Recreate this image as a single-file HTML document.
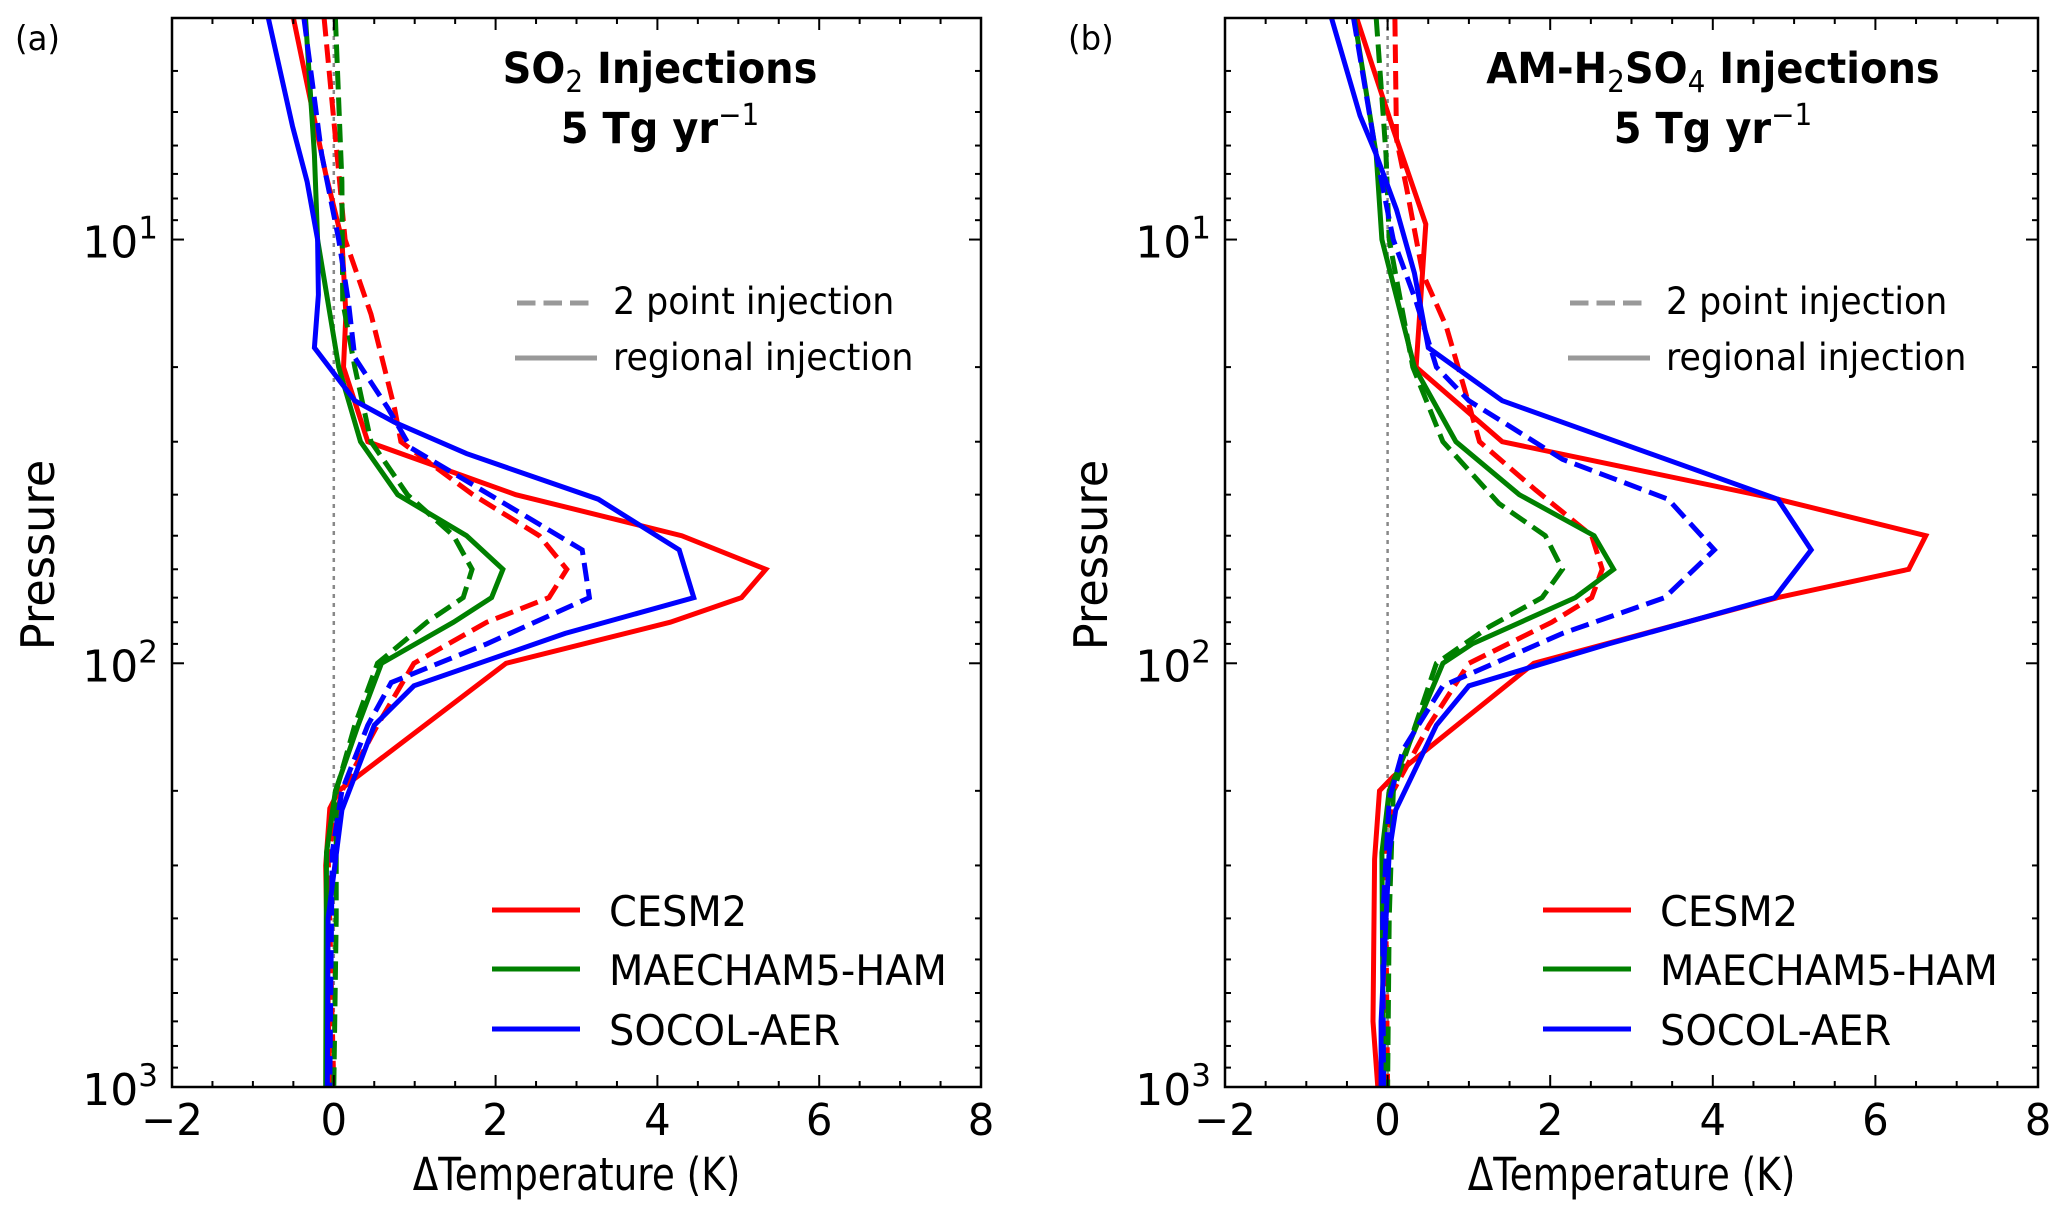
<!DOCTYPE html>
<html><head><meta charset="utf-8">
<style>
html,body{margin:0;padding:0;background:#fff;}
svg{display:block;font-family:"DejaVu Sans","Liberation Sans",sans-serif;}
</style></head>
<body>
<svg id="fig" width="2067" height="1217" viewBox="0 0 2067 1217" xmlns="http://www.w3.org/2000/svg"></svg>
<script>
// ---- data (pressure hPa, ΔT K) ----
const xTicks = [-2, 0, 2, 4, 6, 8];
const xTickLabels = ["\u22122", "0", "2", "4", "6", "8"];
const yDecades = [1, 2, 3];
const models = ["CESM2", "MAECHAM5-HAM", "SOCOL-AER"];
const colors = ["#ff0000", "#008000", "#0000ff"];

// Panel a — SO2
const a_cesm_solid_p = [3, 7, 10, 15, 20, 30, 40, 50, 60, 70, 80, 100, 200, 220, 300, 500, 1000];
const a_cesm_solid_t = [-0.5, -0.1, 0.1, 0.15, 0.12, 0.42, 2.25, 4.3, 5.34, 5.04, 4.16, 2.13, 0.06, -0.05, -0.1, -0.08, -0.05];
const a_cesm_dash_p = [3, 10, 15, 25, 30, 40, 50, 60, 70, 80, 100, 140, 200, 280, 1000];
const a_cesm_dash_t = [-0.12, 0.14, 0.46, 0.75, 0.83, 1.72, 2.54, 2.88, 2.66, 1.89, 0.99, 0.54, 0.1, -0.07, 0.0];
const a_maec_solid_p = [3, 6.3, 10, 20, 30, 40, 50, 60, 70, 80, 100, 140, 200, 280, 1000];
const a_maec_solid_t = [-0.35, -0.24, -0.2, 0.06, 0.33, 0.79, 1.64, 2.09, 1.95, 1.48, 0.59, 0.3, 0.02, -0.09, -0.1];
const a_maec_dash_p = [3, 7.3, 14, 20, 30, 40, 50, 60, 70, 80, 100, 140, 200, 400, 1000];
const a_maec_dash_t = [0.02, 0.1, 0.11, 0.26, 0.46, 0.91, 1.48, 1.71, 1.6, 1.15, 0.54, 0.26, 0.03, 0.03, 0.0];
const a_socol_solid_p = [3, 5.4, 7.3, 10, 13.5, 18, 24, 27, 32, 41, 54, 70, 85, 113, 140, 222, 400, 1000];
const a_socol_solid_t = [-0.81, -0.51, -0.33, -0.2, -0.19, -0.24, 0.26, 0.75, 1.64, 3.27, 4.27, 4.45, 2.86, 0.99, 0.5, 0.1, -0.07, -0.08];
const a_socol_dash_p = [3, 6.3, 10, 14, 19, 25, 31, 46, 54, 70, 90, 111, 140, 200, 280, 1000];
const a_socol_dash_t = [-0.37, -0.15, 0.06, 0.18, 0.26, 0.67, 0.95, 2.46, 3.07, 3.16, 1.89, 0.71, 0.42, 0.1, -0.02, -0.05];

// Panel b — AM-H2SO4
const b_cesm_solid_p = [3, 5.5, 9.2, 20, 30, 41, 50, 60, 70, 100, 185, 200, 290, 700, 1000];
const b_cesm_solid_t = [-0.38, 0.07, 0.47, 0.35, 1.41, 4.8, 6.62, 6.41, 4.8, 1.8, 0.07, -0.1, -0.16, -0.18, -0.12];
const b_cesm_dash_p = [3, 5.8, 7.5, 12, 16, 23, 30, 39, 50, 60, 70, 80, 100, 140, 200, 280, 1000];
const b_cesm_dash_t = [0.09, 0.11, 0.23, 0.43, 0.72, 0.96, 1.13, 1.82, 2.51, 2.64, 2.51, 2.02, 1.0, 0.51, 0.07, -0.03, 0.0];
const b_maec_solid_p = [3, 6.3, 10, 20, 30, 40, 50, 60, 70, 90, 100, 200, 280, 1000];
const b_maec_solid_t = [-0.41, -0.14, -0.07, 0.33, 0.84, 1.62, 2.54, 2.78, 2.31, 1.04, 0.68, 0.02, -0.07, -0.05];
const b_maec_dash_p = [3, 6.3, 10, 20, 30, 42, 50, 60, 70, 82, 100, 200, 400, 1000];
const b_maec_dash_t = [-0.14, -0.02, 0.02, 0.31, 0.68, 1.37, 1.94, 2.15, 1.9, 1.25, 0.6, 0.07, 0.02, 0.0];
const b_socol_solid_p = [3, 5.1, 6.3, 8.5, 12, 18, 24, 41, 54, 70, 90, 113, 140, 222, 280, 700, 1000];
const b_socol_solid_t = [-0.69, -0.34, -0.14, 0.11, 0.33, 0.5, 1.41, 4.8, 5.21, 4.76, 2.72, 1.0, 0.6, 0.1, 0.02, -0.08, -0.08];
const b_socol_dash_p = [3, 6.3, 10, 14, 20, 24, 33, 41, 54, 70, 85, 113, 160, 210, 400, 1000];
const b_socol_dash_t = [-0.42, -0.14, 0.07, 0.35, 0.6, 1.0, 2.15, 3.45, 4.02, 3.41, 2.15, 0.68, 0.19, 0.02, -0.06, -0.05];

const NS = "http://www.w3.org/2000/svg";
const svg = document.getElementById("fig");
function mk(tag, attrs, parent) {
  const e = document.createElementNS(NS, tag);
  for (const k in attrs) e.setAttribute(k, attrs[k]);
  (parent || svg).appendChild(e);
  return e;
}
// text placed with a horizontal squeeze factor sx (reference glyphs are tall/narrow)
function txt(x, y, size, sx, attrs, parent) {
  const a = Object.assign({x: 0, y: 0, "font-size": size, transform: "translate(" + x + " " + y + ") scale(" + sx + " 1)"}, attrs || {});
  return mk("text", a, parent);
}

const T = 18, B = 1087;
const PMIN = 3, PMAX = 1000;
function makePanel(L, R, key, title1, lab, legA, legB) {
  const g = mk("g", {});
  
  
  const xs = v => L + (v + 2) / 10 * (R - L);
  const ys = p => T + (Math.log10(p) - Math.log10(PMIN)) / (Math.log10(PMAX) - Math.log10(PMIN)) * (B - T);

  const z = mk("line", {x1: xs(0), x2: xs(0), y1: T, y2: B, stroke: "#888", "stroke-width": 2.5, "stroke-dasharray": "4,5"}, g);
  
  

  const d = key === 'a' ?
    [[a_cesm_solid_p, a_cesm_solid_t, 0, false], [a_cesm_dash_p, a_cesm_dash_t, 0, true],
     [a_maec_solid_p, a_maec_solid_t, 1, false], [a_maec_dash_p, a_maec_dash_t, 1, true],
     [a_socol_solid_p, a_socol_solid_t, 2, false], [a_socol_dash_p, a_socol_dash_t, 2, true]] :
    [[b_cesm_solid_p, b_cesm_solid_t, 0, false], [b_cesm_dash_p, b_cesm_dash_t, 0, true],
     [b_maec_solid_p, b_maec_solid_t, 1, false], [b_maec_dash_p, b_maec_dash_t, 1, true],
     [b_socol_solid_p, b_socol_solid_t, 2, false], [b_socol_dash_p, b_socol_dash_t, 2, true]];
  const clip = mk("clipPath", {id: "clip" + key}, g);
  mk("rect", {x: L, y: T, width: R - L, height: B - T}, clip);
  d.forEach(s => {
    const pts = s[0].map((p, i) => xs(s[1][i]).toFixed(1) + "," + ys(p).toFixed(1)).join(" ");
    const pl = mk("polyline", {points: pts, fill: "none", stroke: colors[s[2]], "stroke-width": 5,
      "stroke-linejoin": "miter", "clip-path": "url(#clip" + key + ")"}, g);
    if (s[3]) pl.setAttribute("stroke-dasharray", "18.5,8");
    
    
  });

  const fr = mk("rect", {x: L, y: T, width: R - L, height: B - T, fill: "none", stroke: "#000", "stroke-width": 2.5}, g);
  
  

  for (let v = -2; v <= 8.001; v += 0.5) {
    const major = Math.abs(v - Math.round(v / 2) * 2) < 1e-6;
    const len = major ? 12 : 6;
    mk("line", {x1: xs(v), x2: xs(v), y1: B, y2: B - len, stroke: "#000", "stroke-width": 2}, g);
    mk("line", {x1: xs(v), x2: xs(v), y1: T, y2: T + len, stroke: "#000", "stroke-width": 2}, g);
  }
  xTicks.forEach((v, i) => {
    const t = txt(xs(v), 1135, 44, 0.95, {"text-anchor": "middle"}, g);
    t.textContent = xTickLabels[i];
    
    
  });
  for (let e = 0; e <= 2; e++) {
    for (let m = 1; m <= 9; m++) {
      const p = m * Math.pow(10, e);
      if (p < PMIN || p > PMAX) continue;
      const len = m === 1 ? 12 : 6;
      mk("line", {x1: L, x2: L + len, y1: ys(p), y2: ys(p), stroke: "#000", "stroke-width": 2}, g);
      mk("line", {x1: R, x2: R - len, y1: ys(p), y2: ys(p), stroke: "#000", "stroke-width": 2}, g);
    }
  }
  yDecades.forEach(e => {
    const t = txt(L - 14, ys(Math.pow(10, e)) + 18, 44, 1.0, {"text-anchor": "end"}, g);
    t.innerHTML = '10<tspan dy="-19" font-size="31">' + e + '</tspan>';
    
    
  });

  const xl = txt((L + R) / 2, 1190, 45, 0.83, {"text-anchor": "middle"}, g);
  xl.textContent = "\u0394Temperature (K)";
  
  
  const yx = L - 118, yy = 555;
  const yl = mk("text", {x: 0, y: 0, "font-size": 46, "text-anchor": "middle", transform: "translate(" + yx + " " + yy + ") rotate(-90) scale(0.97 1)"}, g);
  yl.textContent = "Pressure";
  
  

  const pl = txt(L - 157, 50, 34, 0.95, {}, g);
  pl.textContent = lab;
  
  

  const cx = L + 488;
  const t1 = txt(cx, 83, 43, 0.93, {"font-weight": "bold", "text-anchor": "middle"}, g);
  t1.innerHTML = title1;
  
  
  const t2 = txt(cx, 143, 43, 0.93, {"font-weight": "bold", "text-anchor": "middle"}, g);
  t2.innerHTML = '5 Tg yr<tspan dy="-18" font-size="30" font-weight="normal">\u22121</tspan>';
  
  

  const lx = legA;
  const l1 = mk("line", {x1: lx, x2: lx + 78, y1: 303, y2: 303, stroke: "#999", "stroke-width": 5, "stroke-dasharray": "18.5,8"}, g);
  
  
  const l1t = txt(lx + 96, 314, 37, 0.94, {}, g);
  l1t.textContent = "2 point injection";
  
  
  const l2 = mk("line", {x1: lx - 2, x2: lx + 80, y1: 358, y2: 358, stroke: "#999", "stroke-width": 5}, g);
  
  
  const l2t = txt(lx + 96, 370, 37, 0.94, {}, g);
  l2t.textContent = "regional injection";
  
  

  const my = [910, 969, 1029];
  models.forEach((m, i) => {
    const ln = mk("line", {x1: legB, x2: legB + 88, y1: my[i], y2: my[i], stroke: colors[i], "stroke-width": 5}, g);
    
    
    const tx = txt(legB + 117, my[i] + 16, 42, 0.95, {}, g);
    tx.textContent = m;
    
    
  });
}

makePanel(172, 981, 'a', 'SO<tspan dy="9" font-size="30" font-weight="normal">2</tspan><tspan dy="-9"> Injections</tspan>', '(a)', 517, 492);
makePanel(1225, 2038, 'b', 'AM-H<tspan dy="9" font-size="30" font-weight="normal">2</tspan><tspan dy="-9">SO</tspan><tspan dy="9" font-size="30" font-weight="normal">4</tspan><tspan dy="-9"> Injections</tspan>', '(b)', 1570, 1543);
</script>
</body></html>
